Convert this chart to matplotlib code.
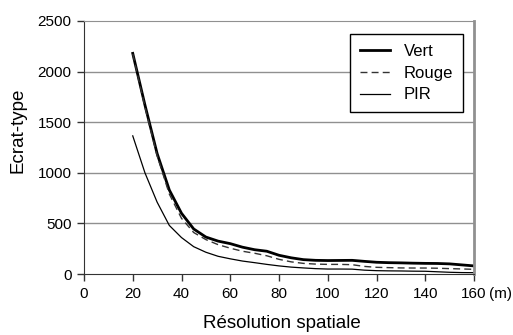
import matplotlib
matplotlib.use("Agg")
import matplotlib.pyplot as plt

plt.rcParams['font.family'] = ['Liberation Sans', 'DejaVu Sans']

resolution = [20, 25, 30, 35, 40, 45, 50, 55, 60, 65, 70, 75, 80, 85, 90, 95, 100,
              105, 110, 115, 120, 125, 130, 135, 140, 145, 150, 155, 160]
vert = [2180, 1670, 1190, 830, 600, 445, 365, 325, 300, 265, 240, 225, 185, 160, 142,
        135, 133, 134, 135, 125, 116, 112, 110, 107, 105, 104, 100, 90, 80]
rouge = [2175, 1650, 1170, 790, 550, 410, 340, 290, 255, 225, 205, 180, 145, 120, 105,
         98, 95, 95, 92, 75, 66, 63, 60, 59, 59, 57, 53, 50, 46]
pir = [1365, 1000, 710, 480, 360, 270, 215, 175, 150, 128, 112, 95, 80, 68, 60,
       53, 49, 49, 48, 38, 33, 31, 30, 28, 27, 22, 17, 14, 13]

xticks = [0, 20, 40, 60, 80, 100, 120, 140, 160]
yticks = [0, 500, 1000, 1500, 2000, 2500]

W, H = 513, 335
fig = plt.figure(figsize=(W / 100, H / 100), dpi=100)
ax = fig.add_axes([84 / W, 1 - 274 / H, 390 / W, 253 / H])

ax.plot(resolution, vert, color='black', lw=2.0, label='Vert',
        solid_joinstyle='round')
ax.plot(resolution, rouge, color='#333333', lw=1.0, ls=(0, (5, 3)), label='Rouge')
ax.plot(resolution, pir, color='black', lw=0.9, label='PIR',
        solid_joinstyle='round')

ax.set_xlim(0, 160)
ax.set_ylim(0, 2500)
ax.set_xticks(xticks)
ax.set_yticks(yticks)
ax.set_xticklabels([str(t) for t in xticks])
ax.set_yticklabels([str(t) for t in yticks])
ax.tick_params(axis='both', labelsize=11, direction='out', length=5, width=1,
               color='#333333', pad=4)
for y in yticks[1:-1]:
    ax.axhline(y, color='#909090', lw=1.0, zorder=0)

ax.spines['left'].set_color('#333333')
ax.spines['bottom'].set_color('#333333')
ax.spines['top'].set_color('#909090')
ax.spines['right'].set_color('#909090')
ax.spines['right'].set_linewidth(2)

fig.text(282 / W, 1 - 323 / H, 'Résolution spatiale', fontsize=13.5,
         ha='center', va='center')
fig.text(18 / W, 1 - 130 / H, 'Ecrat-type', fontsize=13.5, rotation=90,
         ha='center', va='center')
fig.text(512 / W, 1 - 294 / H, '(m)', fontsize=11, ha='right', va='center')

leg = ax.legend(loc='upper right', bbox_to_anchor=((463 - 84) / 390, (274 - 34) / 253),
                borderaxespad=0, fontsize=12, frameon=True, fancybox=False,
                framealpha=1, edgecolor='black', handlelength=1.8,
                handletextpad=0.8, borderpad=0.6, labelspacing=0.4)
leg.get_frame().set_linewidth(1.0)

fig.savefig('out.png', dpi=100)
